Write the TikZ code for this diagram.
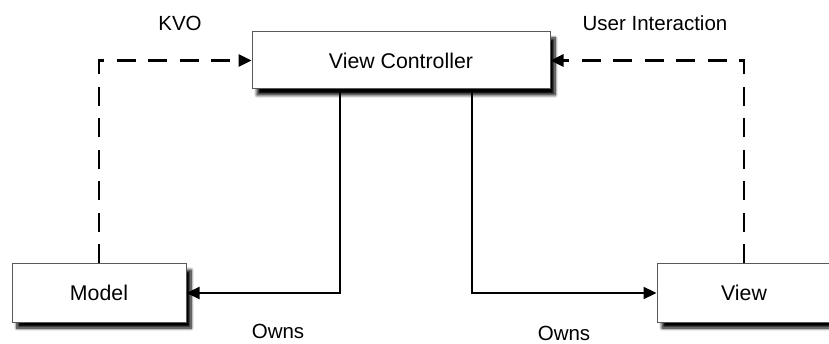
\documentclass[tikz,border=0pt]{standalone}
\usepackage{fontspec}
\setmainfont{Liberation Sans}
\usetikzlibrary{arrows.meta,shadows.blur}
\tikzset{
  box/.style={draw=black!65, line width=1pt, fill=white, minimum height=57pt, inner sep=0pt,
    font=\fontsize{21.3pt}{25pt}\selectfont,
    blur shadow={shadow xshift=5pt, shadow yshift=-6pt, shadow blur steps=8, shadow blur radius=3pt, shadow opacity=100}},
  own/.style={line width=2.2pt, -{Triangle[length=13pt,width=12pt]}},
  obs/.style={line width=2.6pt, dash pattern=on 19pt off 12.5pt, -{Triangle[length=13pt,width=12pt]}},
  lbl/.style={font=\fontsize{20.5pt}{23pt}\selectfont, inner sep=0pt}
}
\begin{document}
\begin{tikzpicture}[x=1pt,y=-1pt]
\useasboundingbox (0,0) rectangle (829,344);
\node[box, minimum width=298pt] (vc) at (401,60.5) {View Controller};
\node[box, minimum width=174pt, minimum height=58pt] (model) at (99,293) {Model};
\node[box, minimum width=174pt, minimum height=58pt] (view) at (744,293) {View};
\draw[obs] (model.north) |- (vc.west);
\draw[obs] (view.north) |- (vc.east);
\draw[own] ([xshift=-61pt]vc.south) |- (model.east);
\draw[own] ([xshift=71pt]vc.south) |- (view.west);
\node[lbl] (kvo) at (180,23) {KVO};
\node[lbl] (ui) at (655,23) {User Interaction};
\node[lbl] (owns1) at (278,331) {Owns};
\node[lbl] (owns2) at (564,333) {Owns};
\end{tikzpicture}
\end{document}
